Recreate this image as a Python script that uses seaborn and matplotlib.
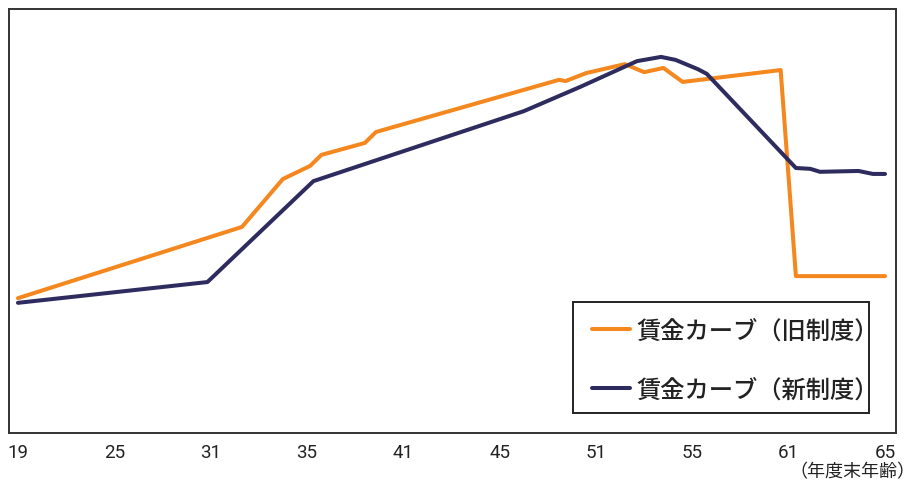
import numpy as np
import pandas as pd
import matplotlib
matplotlib.use("Agg")
import matplotlib.pyplot as plt
import seaborn as sns
from matplotlib.lines import Line2D
from matplotlib.patches import Rectangle

# Age labels on the x axis (placed at equal spacing)
tick_ages = [19, 25, 31, 35, 41, 45, 51, 55, 61, 65]

# Old wage curve
old_age = [19, 32.3, 34.0, 35.2, 35.9, 38.6, 39.3, 48.7, 49.1, 50.4, 52.2, 53.0, 53.8, 54.6, 60.5, 61.3, 65]
old_val = [31.8, 48.6, 59.9, 63.0, 65.6, 68.4, 71.0, 83.3, 83.0, 84.9, 87.0, 85.1, 86.1, 82.8, 85.6, 37.0, 37.0]

# New wage curve
new_age = [19, 30.8, 35.4, 46.5, 50.0, 52.7, 53.7, 54.3, 54.6, 55.35, 55.9, 61.3, 61.9, 62.3, 63.9, 64.5, 65]
new_val = [30.7, 35.6, 59.4, 75.9, 81.6, 87.7, 88.7, 88.0, 87.3, 85.8, 84.7, 62.5, 62.3, 61.6, 61.8, 61.1, 61.1]

label_old = "賃金カーブ（旧制度）"
label_new = "賃金カーブ（新制度）"
x_note = "（年度末年齢）"

c_old = "#F5871F"
c_new = "#2E2C5E"

sns.set_theme(style="white")
plt.rcParams["font.family"] = ["Noto Sans CJK JP", "DejaVu Sans"]

idx = np.arange(len(tick_ages), dtype=float)
ta = np.array(tick_ages, dtype=float)


def fwd(a):
    a = np.asarray(a, dtype=float)
    p = np.interp(a, ta, idx)
    p = np.where(a < ta[0], (a - ta[0]) / (ta[1] - ta[0]), p)
    p = np.where(a > ta[-1], idx[-1] + (a - ta[-1]) / (ta[-1] - ta[-2]), p)
    return p


def inv(p):
    p = np.asarray(p, dtype=float)
    a = np.interp(p, idx, ta)
    a = np.where(p < 0, ta[0] + p * (ta[1] - ta[0]), a)
    a = np.where(p > idx[-1], ta[-1] + (p - idx[-1]) * (ta[-1] - ta[-2]), a)
    return a


df = pd.concat([
    pd.DataFrame({"age": old_age, "value": old_val, "series": label_old}),
    pd.DataFrame({"age": new_age, "value": new_val, "series": label_new}),
])

W, H = 917, 481
fig = plt.figure(figsize=(W / 100, H / 100), dpi=100)
ax = fig.add_axes([9 / W, 47 / H, 887 / W, 424 / H])
ax.set_xscale("function", functions=(fwd, inv))

sns.lineplot(data=df, x="age", y="value", hue="series",
             palette={label_old: c_old, label_new: c_new},
             estimator=None, sort=False, linewidth=2.9, ax=ax, legend=False)

ax.set_xlim(inv(-0.093), inv(9.114))
ax.set_ylim(0, 100)
ax.set_xticks(tick_ages)
ax.set_xticklabels([str(t) for t in tick_ages],
                   family=["Roboto", "DejaVu Sans"], fontsize=13.5,
                   color="#222222")
ax.tick_params(axis="x", length=0, pad=7)
ax.set_yticks([])
ax.set_xlabel("")
ax.set_ylabel("")
for s in ax.spines.values():
    s.set_visible(True)
    s.set_color("#333333")
    s.set_linewidth(1.4)

# Legend box drawn as its own rectangle, entries placed inside it
ax.add_patch(Rectangle((573 / W, 1 - 414 / H), 296 / W, 111 / H,
                       transform=fig.transFigure, facecolor="white",
                       edgecolor="#222222", linewidth=1.4, zorder=4))
handles = [Line2D([], [], color=c_old, lw=2.9), Line2D([], [], color=c_new, lw=2.9)]
leg = ax.legend(handles, [label_old, label_new], loc="upper left",
                bbox_to_anchor=(592 / W, 1 - 318.5 / H),
                bbox_transform=fig.transFigure, borderaxespad=0,
                prop={"size": 17.5, "weight": "medium"},
                frameon=False, handlelength=1.56, handletextpad=0.25,
                labelspacing=1.37, borderpad=0)
leg.set_zorder(5)
for t in leg.get_texts():
    t.set_color("#222222")

fig.text(915 / W, 1 - 472 / H, x_note, ha="right", va="center",
         fontsize=13, color="#222222")

fig.savefig("out.png", dpi=100, facecolor="white")
